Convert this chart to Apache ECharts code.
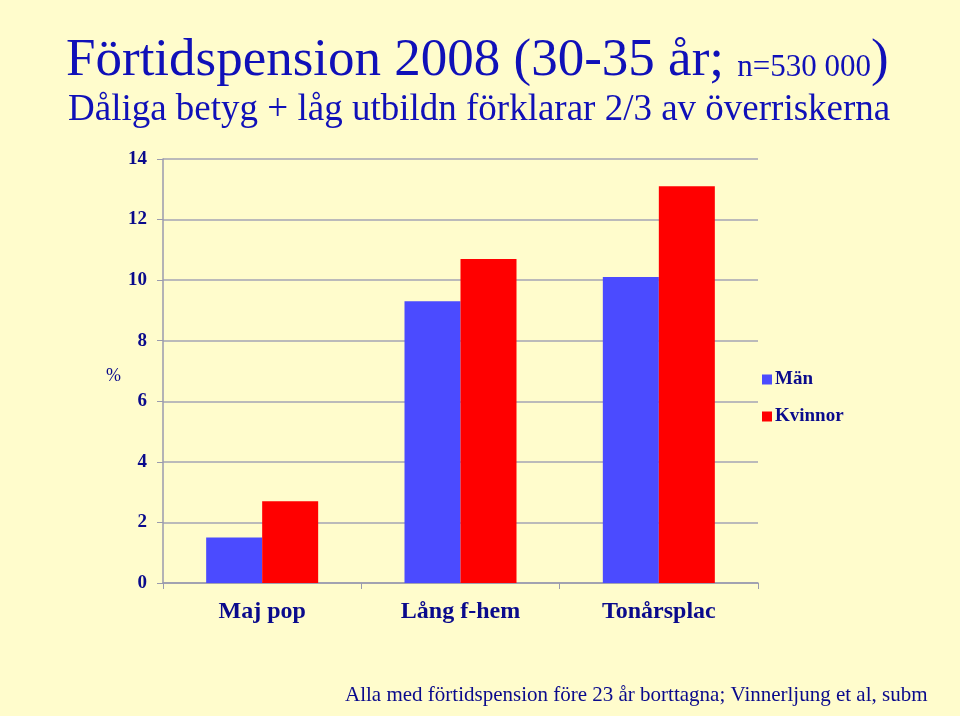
<!DOCTYPE html>
<html><head><meta charset="utf-8">
<script src="https://cdn.jsdelivr.net/npm/echarts@6/dist/echarts.min.js"></script>
<style>html,body{margin:0;padding:0;background:#FFFCCC}#c{width:960px;height:716px}</style>
</head><body><div id="c"></div>
<script>
const categories = ['Maj pop', 'Lång f-hem', 'Tonårsplac'];
const manValues = [1.5, 9.3, 10.1];
const kvinnorValues = [2.7, 10.7, 13.1];
const seriesNames = ['Män', 'Kvinnor'];
const yTicks = [0, 2, 4, 6, 8, 10, 12, 14];

const navy = '#0A0A8C';
const titleBlue = '#1010B8';
const serif = '"Liberation Serif", "Times New Roman", serif';
const chart = echarts.init(document.getElementById('c'));
chart.setOption({
  backgroundColor: '#FFFCCC',
  animation: false,
  title: [{
    text: 'Förtidspension 2008 (30-35 år; {s|n=530 000}{b|)}',
    left: 61, top: 30,
    textStyle: {
      fontFamily: serif, fontSize: 53, fontWeight: 'normal', color: titleBlue,
      rich: {
        s: { fontFamily: serif, fontSize: 31, color: titleBlue, verticalAlign: 'bottom', padding: [0,0,5,0] },
        b: { fontFamily: serif, fontSize: 53, color: titleBlue }
      }
    }
  }, {
    text: 'Dåliga betyg + låg utbildn förklarar 2/3 av överriskerna',
    left: 63, top: 87,
    textStyle: { fontFamily: serif, fontSize: 37, fontWeight: 'normal', color: titleBlue }
  }, {
    text: 'Alla med förtidspension före 23 år borttagna; Vinnerljung et al, subm',
    left: 340, top: 680,
    textStyle: { fontFamily: serif, fontSize: 21, fontWeight: 'normal', color: '#0A0A8C' }
  }, {
    text: '%',
    left: 101, top: 362,
    textStyle: { fontFamily: serif, fontSize: 18, fontWeight: 'normal', color: navy }
  }],
  legend: {
    orient: 'vertical', left: 757, top: 365,
    itemWidth: 10, itemHeight: 10, itemGap: 18,
    icon: 'rect',
    textStyle: { fontFamily: serif, fontSize: 19, fontWeight: 'bold', color: navy, padding: [0,0,0,-2] },
    data: seriesNames
  },
  grid: { left: 163, right: 202, top: 159, bottom: 133 },
  xAxis: {
    type: 'category', data: categories,
    axisLine: { lineStyle: { color: '#9A9AAE', width: 1.5 } },
    axisTick: { show: true, length: 6, lineStyle: { color: '#9A9AAE' } },
    axisLabel: { fontFamily: serif, fontSize: 24, fontWeight: 'bold', color: navy, margin: 17 }
  },
  yAxis: {
    type: 'value', min: 0, max: 14, interval: 2,
    axisLine: { show: true, lineStyle: { color: '#9A9AAE', width: 1.5 } },
    axisTick: { show: true, length: 6, lineStyle: { color: '#9A9AAE' } },
    splitLine: { lineStyle: { color: '#A5A5B5', width: 1.5 } },
    axisLabel: { fontFamily: serif, fontSize: 19, fontWeight: 'bold', color: navy, margin: 16,
      formatter: v => yTicks.includes(v) ? String(v) : '' }
  },
  series: [
    { name: seriesNames[0], type: 'bar', data: manValues, barWidth: 56, barGap: '0%', itemStyle: { color: '#4B4BFF' } },
    { name: seriesNames[1], type: 'bar', data: kvinnorValues, barWidth: 56, barGap: '0%', itemStyle: { color: '#FF0000' } }
  ]
});
</script></body></html>
